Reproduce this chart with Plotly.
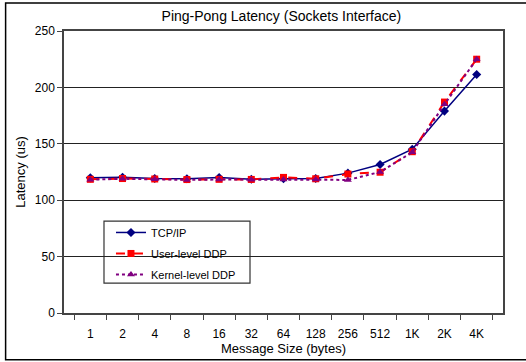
import plotly.graph_objects as go

sizes = ["1", "2", "4", "8", "16", "32", "64", "128", "256", "512", "1K", "2K", "4K"]
tcp_ip = [119.8, 120.4, 119.2, 119.0, 120.1, 118.6, 119.0, 119.3, 124.0, 131.7, 145.2, 179.0, 211.5]
user_ddp = [118.5, 119.2, 118.8, 118.3, 118.5, 118.4, 120.2, 119.0, 123.2, 124.8, 143.0, 187.0, 225.0]
kernel_ddp = [118.2, 119.0, 118.5, 118.0, 118.3, 118.2, 118.4, 118.3, 118.0, 125.0, 142.5, 185.0, 225.0]

fig = go.Figure()
fig.add_trace(go.Scatter(
    x=sizes, y=tcp_ip, name="TCP/IP", mode="lines+markers", legendgroup="a",
    line=dict(color="#000080", width=1.5),
    marker=dict(symbol="diamond", size=7, color="#000080"),
))
fig.add_trace(go.Scatter(
    x=sizes, y=user_ddp, name="User-level DDP", mode="lines+markers", legendgroup="b",
    line=dict(color="#FF0000", width=2, dash="dash"),
    marker=dict(symbol="square", size=7, color="#FF0000"),
))
fig.add_trace(go.Scatter(
    x=sizes, y=kernel_ddp, name="Kernel-level DDP", mode="lines+markers", legendgroup="c",
    line=dict(color="#800080", width=2, dash="dot"),
    marker=dict(symbol="triangle-up", size=7, color="#800080"),
))

fig.update_layout(
    width=526, height=362,
    margin=dict(l=64, r=23, t=31, b=49),
    paper_bgcolor="white", plot_bgcolor="white",
    font=dict(family="Arial, Liberation Sans, sans-serif", size=12, color="black"),
    title=dict(text="Ping-Pong Latency (Sockets Interface)", x=0.535, xanchor="center",
               y=0.955, yanchor="middle", font=dict(size=14)),
    showlegend=True,
    legend=dict(x=0.107, y=0.337, xanchor="left", yanchor="top",
                bgcolor="rgba(0,0,0,0)", borderwidth=0,
                font=dict(size=11), tracegroupgap=2, itemwidth=30),
    shapes=[
        # outer frame around the whole chart
        dict(type="rect", xref="paper", yref="paper",
             x0=-0.133, x1=1.09, y0=-0.166, y1=1.099,
             line=dict(color="black", width=1.5)),
        # legend box, drawn over the gridlines but under the data
        dict(type="rect", xref="paper", yref="paper", layer="below",
             x0=0.0911, x1=0.4237, y0=0.106, y1=0.326,
             fillcolor="white", line=dict(color="#333333", width=1.2)),
    ],
)
fig.update_xaxes(
    type="category", title=dict(text="Message Size (bytes)", standoff=0, font=dict(size=13)),
    showline=True, linecolor="#444444", linewidth=1.5, mirror=True,
    ticks="outside", tickson="boundaries", ticklen=5, tickcolor="#444444",
    ticklabelstandoff=9,
    showgrid=False, tickfont=dict(size=12),
)
fig.update_yaxes(
    range=[0, 250], dtick=50, title=dict(text="Latency (us)", standoff=6, font=dict(size=13)),
    showline=True, linecolor="#444444", linewidth=1.5, mirror=True,
    ticks="outside", ticklen=5, tickcolor="#444444",
    showgrid=True, gridcolor="#222222", gridwidth=1, zeroline=False,
    tickfont=dict(size=12),
)

fig.write_html("out.html")
